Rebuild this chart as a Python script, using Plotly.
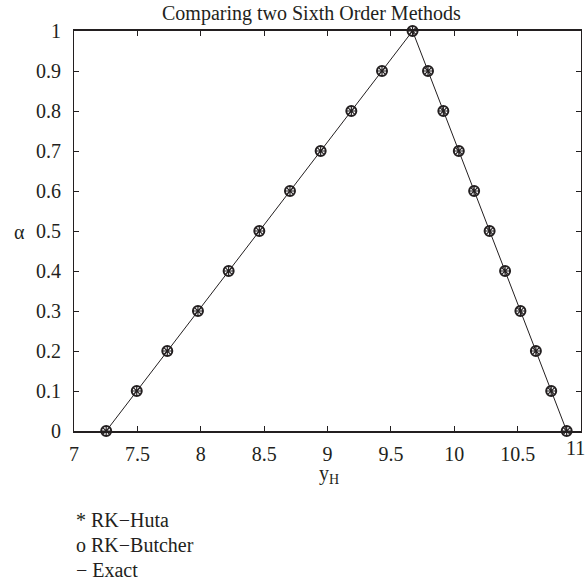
import plotly.graph_objects as go

alpha = [0.0, 0.1, 0.2, 0.3, 0.4, 0.5, 0.6, 0.7, 0.8, 0.9, 1.0]
y_left = [7.254, 7.495, 7.736, 7.978, 8.220, 8.462, 8.704, 8.946, 9.188, 9.430, 9.671]
y_right = [10.887, 10.765, 10.644, 10.522, 10.401, 10.279, 10.157, 10.036, 9.914, 9.793, 9.671]

# full fuzzy solution path (left branch up, right branch down)
x_all = y_left + y_right[::-1][1:]
a_all = alpha + alpha[::-1][1:]

x_ticks = [7, 7.5, 8, 8.5, 9, 9.5, 10, 10.5, 11]
x_tick_labels = ["7", "7.5", "8", "8.5", "9", "9.5", "10", "10.5", "11"]
y_ticks = [0, 0.1, 0.2, 0.3, 0.4, 0.5, 0.6, 0.7, 0.8, 0.9, 1]
y_tick_labels = ["0", "0.1", "0.2", "0.3", "0.4", "0.5", "0.6", "0.7", "0.8", "0.9", "1"]

legend_lines = ["* RK\u2212Huta", "o RK\u2212Butcher", "\u2212 Exact"]

FONT = "Liberation Serif"
INK = "#231f20"
FS = 20

fig = go.Figure()
fig.add_trace(go.Scatter(x=x_all, y=a_all, mode="lines",
                         line=dict(color=INK, width=1), name="Exact",
                         cliponaxis=False, showlegend=False))
fig.add_trace(go.Scatter(x=x_all, y=a_all, mode="markers",
                         marker=dict(symbol="circle-open", size=10, color=INK,
                                     line=dict(width=2, color=INK)),
                         name="RK-Butcher", cliponaxis=False, showlegend=False))
fig.add_trace(go.Scatter(x=x_all, y=a_all, mode="markers",
                         marker=dict(symbol="asterisk-open", size=8, color=INK,
                                     line=dict(width=1.2, color=INK)),
                         name="RK-Huta", cliponaxis=False, showlegend=False))

L, R, T, B = 74, 7, 31, 157
W = H = 588
pw, ph = W - L - R, H - T - B

def px(xp):
    return (xp - L) / pw

def py(yp):
    return (H - B - yp) / ph

annotations = [
    dict(text="Comparing two Sixth Order Methods", x=px(311), y=py(13),
         xref="paper", yref="paper", showarrow=False, xanchor="center",
         yanchor="middle", font=dict(family=FONT, size=FS, color=INK)),
    dict(text="y<sub>H</sub>", x=px(329), y=py(474),
         xref="paper", yref="paper", showarrow=False, xanchor="center",
         yanchor="middle", font=dict(family=FONT, size=FS, color=INK)),
    dict(text="\u03b1", x=px(19), y=py(232),
         xref="paper", yref="paper", showarrow=False, xanchor="center",
         yanchor="middle", font=dict(family=FONT, size=FS, color=INK)),
]
for i, t in enumerate(legend_lines):
    annotations.append(dict(text=t, x=px(74), y=py(520 + 25 * i),
                            xref="paper", yref="paper", showarrow=False,
                            xanchor="left", yanchor="middle",
                            font=dict(family=FONT, size=FS, color=INK)))

# last x tick label would overflow the right margin; draw it as text kept inside the page
annotations.append(dict(text=x_tick_labels[-1], x=x_ticks[-1], y=py(448),
                        xref="x", yref="paper", showarrow=False,
                        xanchor="right", xshift=6, yanchor="middle",
                        font=dict(family=FONT, size=FS, color=INK)))

fig.update_layout(
    width=W, height=H,
    margin=dict(l=L, r=R, t=T, b=B),
    paper_bgcolor="white", plot_bgcolor="white",
    font=dict(family=FONT, size=FS, color=INK),
    annotations=annotations,
    showlegend=False,
)
fig.update_xaxes(range=[7, 11], tickvals=x_ticks[:-1], ticktext=x_tick_labels[:-1],
                 ticks="inside", ticklen=5, tickcolor=INK, showline=True,
                 linecolor=INK, linewidth=1.5, mirror="ticks", showgrid=False,
                 zeroline=False, ticklabelstandoff=4,
                 tickfont=dict(family=FONT, size=FS, color=INK))
fig.update_yaxes(range=[0, 1], tickvals=y_ticks, ticktext=y_tick_labels,
                 ticks="inside", ticklen=5, tickcolor=INK, showline=True,
                 linecolor=INK, linewidth=1, mirror="ticks", showgrid=False,
                 zeroline=False, ticklabelstandoff=8,
                 tickfont=dict(family=FONT, size=FS, color=INK))

fig.write_html("out.html")
